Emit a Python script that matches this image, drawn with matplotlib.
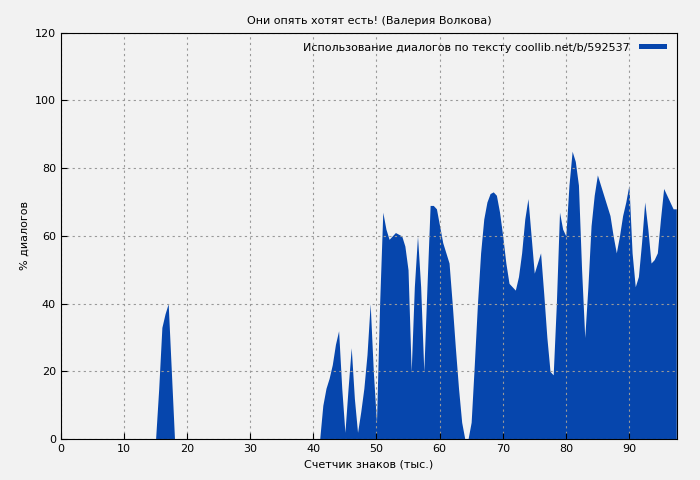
import matplotlib
matplotlib.use("Agg")
import matplotlib.pyplot as plt
import numpy as np

x = np.arange(15, 97.51, 0.5)
y_head = [0, 15, 33, 37, 40, 20, 0]  # 15 .. 18
y_tail = [0, 10, 15, 18, 22, 28, 32, 15, 2, 15, 27, 12, 2, 8, 15, 25, 40, 20, 5, 40,
          67, 62, 59, 60, 61, 60.5, 60, 57, 50, 20, 45, 60, 45, 20, 45, 69, 69, 68, 63, 58,
          55, 52, 40, 27, 15, 5, 0, 0, 5, 22, 40, 55, 65, 70, 72.5, 73, 72, 67, 60, 52,
          46, 45, 44, 48, 55, 65, 71, 60, 49, 52, 55, 43, 30, 20, 19, 40, 67, 62, 60, 75,
          85, 82, 75, 50, 30, 45, 63, 72, 78, 75, 72, 69, 66, 60, 55, 60, 66, 70, 75, 55,
          45, 48, 58, 70, 62, 52, 53, 55, 65, 74, 72, 70, 68, 68]  # 41 .. 97.5
y = np.zeros_like(x)
y[:len(y_head)] = y_head
start = int((41 - 15) / 0.5)
y[start:start + len(y_tail)] = y_tail[:len(y) - start]

bg = "#f2f2f2"
blue = "#0646ad"
fig, ax = plt.subplots(figsize=(7, 4.8), dpi=100)
fig.patch.set_facecolor(bg)
ax.set_facecolor(bg)
ax.fill_between(x, y, 0, color=blue, linewidth=0, label="Использование диалогов по тексту coollib.net/b/592537")
ax.set_xlim(0, 97.6)
ax.set_ylim(0, 120)
ax.set_xticks(range(0, 91, 10))
ax.set_yticks(range(0, 121, 20))
ax.grid(True, color="#999999", linestyle=(0, (2, 3)), linewidth=0.8)
ax.tick_params(labelsize=8, direction="in", length=4)
ax.set_xlabel("Счетчик знаков (тыс.)", fontsize=8)
ax.set_ylabel("% диалогов", fontsize=8)
ax.set_title("Они опять хотят есть! (Валерия Волкова)", fontsize=8)
leg = ax.legend(loc="upper right", fontsize=8, frameon=False, handlelength=2.5, markerfirst=False,
                handleheight=0.4)
fig.subplots_adjust(left=0.087, right=0.967, top=0.932, bottom=0.085)
fig.savefig("out.png", dpi=100, facecolor=bg)
